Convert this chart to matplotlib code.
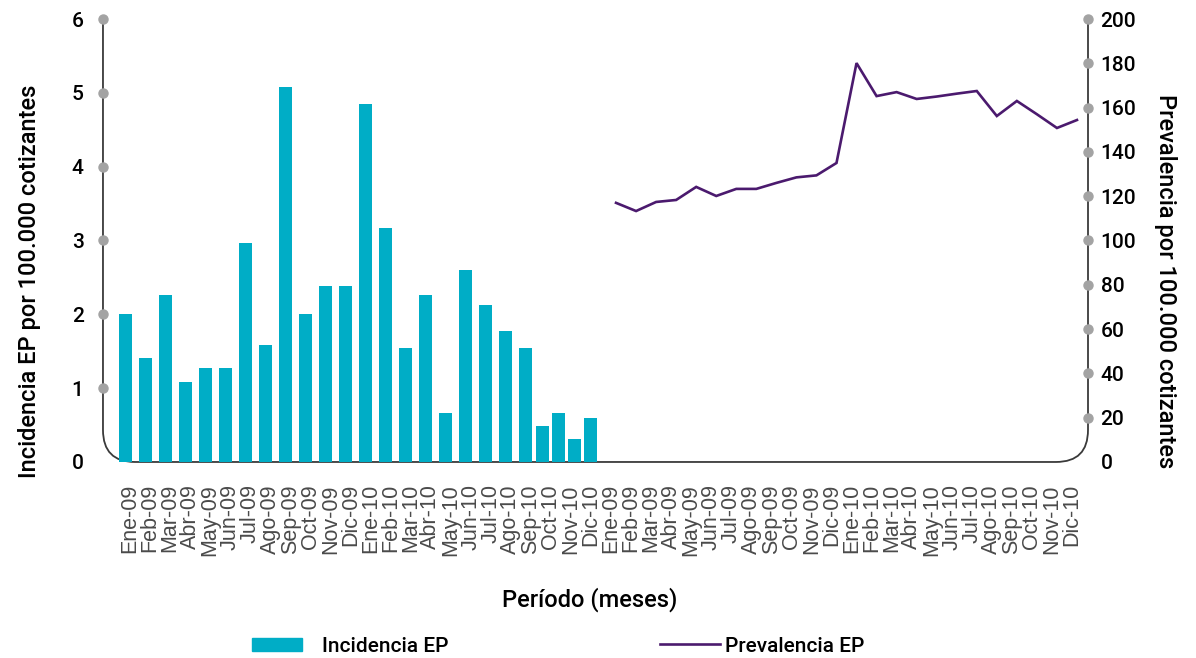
import numpy as np
import matplotlib
matplotlib.use('Agg')
import matplotlib.pyplot as plt
from matplotlib.path import Path
from matplotlib.patches import PathPatch, Patch
from matplotlib.lines import Line2D

# datos
meses = ['Ene', 'Feb', 'Mar', 'Abr', 'May', 'Jun', 'Jul', 'Ago', 'Sep', 'Oct', 'Nov', 'Dic']
anios = ['09', '10']
etiquetas = [f'{m}-{a}' for a in anios for m in meses] * 2

# incidencia EP por 100.000 cotizantes (el original trae 25 barras)
incidencia = [2.01, 1.41, 2.26, 1.08, 1.27, 1.27, 2.97, 1.59, 5.08, 2.01, 2.38, 2.38,
              4.85, 3.17, 1.54, 2.26, 0.66, 2.60, 2.13, 1.78, 1.54, 0.49, 0.66, 0.31, 0.59]

# prevalencia EP por 100.000 cotizantes
prevalencia = [117.0, 113.3, 117.4, 118.3, 124.2, 120.1, 123.3, 123.3, 126.0, 128.5, 129.4, 135.0,
               180.1, 165.2, 167.0, 163.9, 165.0, 166.3, 167.5, 156.2, 163.0, 157.0, 150.8, 154.4]

TEAL = '#00adc6'
MORADO = '#4b1a6e'
GRIS = '#a3a3a3'
FUENTE = 'Roboto'
PESO = 'medium'

fig = plt.figure(figsize=(11.96, 6.58), dpi=100)
ax = fig.add_axes([0.0861, 0.2979, 0.8236, 0.6732])
ax2 = ax.twinx()

# barras: las ultimas cuatro vienen mas juntas en el original
xb = np.r_[np.arange(21), 20 + 0.81 * np.arange(1, 5)] - 0.25
ax.bar(xb, incidencia, width=0.65, color=TEAL, zorder=2)

xl = np.arange(len(prevalencia)) + 24.25
ax2.plot(xl, prevalencia, color=MORADO, lw=1.9, solid_joinstyle='miter')

ax.set_xlim(-1.35, 47.8)
ax.set_ylim(0, 6)
ax2.set_ylim(0, 200)

for a in (ax, ax2):
    for s in a.spines.values():
        s.set_visible(False)

ax.set_xticks(np.arange(48))
ax.set_xticklabels(etiquetas, rotation=90, fontsize=15.5, family='Liberation Sans',
                   color='#4a4a4a', va='top')
ax.tick_params(axis='x', length=0, pad=16)

ax.set_yticks(range(0, 7))
ax.set_yticklabels([str(v) for v in range(0, 7)], fontsize=15, family=FUENTE, weight=PESO)
ax.tick_params(axis='y', length=0, pad=14)

ax2.set_yticks(range(0, 201, 20))
ax2.set_yticklabels([str(v) for v in range(0, 201, 20)], fontsize=15, family=FUENTE, weight=PESO)
ax2.tick_params(axis='y', length=0, pad=9)

# marco redondeado abierto arriba
rx = 32 / 985
ry = 32 / 443
verts = [(0, 1), (0, ry), (0, 0), (rx, 0), (1 - rx, 0), (1, 0), (1, ry), (1, 1)]
codes = [Path.MOVETO, Path.LINETO, Path.CURVE3, Path.CURVE3,
         Path.LINETO, Path.CURVE3, Path.CURVE3, Path.LINETO]
marco = PathPatch(Path(verts, codes), fill=False, edgecolor='#3a3a3a', lw=1.3,
                  transform=ax.transAxes, clip_on=False, zorder=1)
ax.add_patch(marco)

# puntos grises en las marcas
ax.plot(np.zeros(6), np.arange(1, 7), 'o', color=GRIS, ms=6.5,
        transform=ax.get_yaxis_transform(), clip_on=False, zorder=5)
ax2.plot(np.ones(10), np.arange(20, 201, 20), 'o', color=GRIS, ms=6.5,
         transform=ax2.get_yaxis_transform(), clip_on=False, zorder=5)

fig.text(30 / 1196, 1 - 281 / 658, 'Incidencia EP por 100.000 cotizantes', rotation=90,
         ha='center', va='center', fontsize=17, family=FUENTE, weight=PESO)
fig.text(1165 / 1196, 1 - 281 / 658, 'Prevalencia por 100.000 cotizantes', rotation=-90,
         ha='center', va='center', fontsize=17, family=FUENTE, weight=PESO)
fig.text(590 / 1196, 1 - 600 / 658, 'Período (meses)', ha='center', va='center',
         fontsize=17, family=FUENTE, weight=PESO)

# leyendas separadas
leg1 = fig.legend(handles=[Patch(color=TEAL, label='Incidencia EP')], loc='center left',
                  bbox_to_anchor=(252 / 1196, 1 - 646 / 658), frameon=False,
                  borderpad=0, borderaxespad=0, handlelength=2.4, handleheight=0.6,
                  handletextpad=0.95, prop={'family': FUENTE, 'size': 15, 'weight': PESO})
leg2 = fig.legend(handles=[Line2D([], [], color=MORADO, lw=1.9, label='Prevalencia EP')],
                  loc='center left', bbox_to_anchor=(660 / 1196, 1 - 646 / 658),
                  frameon=False, borderpad=0, borderaxespad=0, handlelength=2.9,
                  handletextpad=0.2, prop={'family': FUENTE, 'size': 15, 'weight': PESO})

fig.savefig('out.png', dpi=100)
